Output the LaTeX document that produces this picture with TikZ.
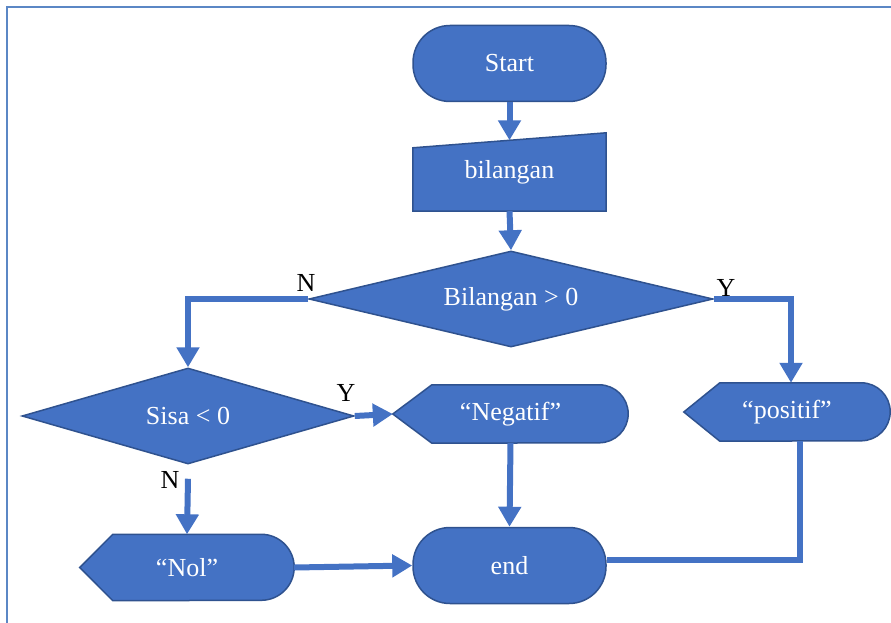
\documentclass[tikz,border=0pt]{standalone}
\usepackage{fontspec}
\setmainfont{Liberation Serif}
\usetikzlibrary{shapes.geometric,arrows.meta,backgrounds}
\definecolor{fcblue}{HTML}{4472C4}
\definecolor{fcedge}{HTML}{2F528F}
\definecolor{framec}{HTML}{5B87C5}
\begin{document}
\begin{tikzpicture}[x=1pt,y=-1pt]
  \tikzstyle{txt}=[font=\fontsize{26}{30}\selectfont, inner sep=0pt]
  \tikzstyle{box}=[txt, draw=fcedge, line width=1.5pt, fill=fcblue, text=white]
  \tikzstyle{term}=[box, rectangle, rounded corners=37pt, minimum width=193pt, minimum height=76pt]
  \tikzstyle{decide}=[box, diamond, aspect=4]
  \tikzstyle{plain}=[txt, text=white]
  \tikzstyle{outline}=[draw=fcedge, line width=1.5pt, fill=fcblue]
  \tikzstyle{link}=[draw=fcblue, line width=6pt]
  \tikzstyle{flow}=[link, -{Triangle[width=22pt,length=20pt]}]
  \tikzstyle{lbl}=[txt, text=black]

  \useasboundingbox (0,0) rectangle (891,623);
  \draw[framec, line width=2pt] (7,650) -- (7,7.5) -- (910,7.5);

  \node[term]   (start) at (509.5,63.5) {Start};
  \node[plain, minimum width=193pt, minimum height=78pt] (inp) at (509.5,172) {bilangan};
  \node[decide, minimum width=404pt, minimum height=96pt] (dec1) at (511,299) {Bilangan > 0};
  \node[decide, minimum width=332pt, minimum height=96pt] (dec2) at (188,416) {Sisa < 0};
  \node[plain, minimum width=235pt, minimum height=58pt] (neg) at (510.5,414) {“Negatif”};
  \node[plain, minimum width=206pt, minimum height=58pt] (pos) at (787,412) {“positif”};
  \node[plain, minimum width=214pt, minimum height=66pt] (nol) at (187,567.5) {“Nol”};
  \node[term]   (end) at (509.5,565.5) {end};

  \node[lbl] (n1) at (306,283) {N};
  \node[lbl] (y1) at (726,288) {Y};
  \node[lbl] (y2) at (346,393) {Y};
  \node[lbl] (n2) at (170,480) {N};

  \begin{pgfonlayer}{background}
    \filldraw[outline] (inp.south west) -- (inp.south east) -- (inp.north east)
      -- ([yshift=-15pt]inp.north west) -- cycle;
    \foreach \n/\d/\r in {neg/39/29, pos/36/29, nol/33/33}
      \filldraw[outline] (\n.west) -- ([xshift=\d pt]\n.north west)
        -- ([xshift=-\r pt]\n.north east) arc[start angle=90, end angle=-90, radius=\r pt]
        -- ([xshift=\d pt]\n.south west) -- cycle;
  \end{pgfonlayer}

  \draw[flow] (start.south) -- ([yshift=-7.5pt]inp.north);
  \draw[flow] (inp.south) -- (dec1.north);
  \draw[flow] (dec1.west) -| (dec2.north);
  \draw[flow] (dec1.east) -| ([xshift=4pt]pos.north);
  \draw[flow] (dec2.east) -- (neg.west);
  \draw[flow] ([yshift=-14pt]dec2.south) -- (nol.north);
  \draw[flow] (neg.south) -- (end.north);
  \draw[flow] (nol.east) -- (end.west);
  \draw[link] ([xshift=13pt]pos.south) |- ([yshift=5.5pt]end.east);
\end{tikzpicture}
\end{document}
